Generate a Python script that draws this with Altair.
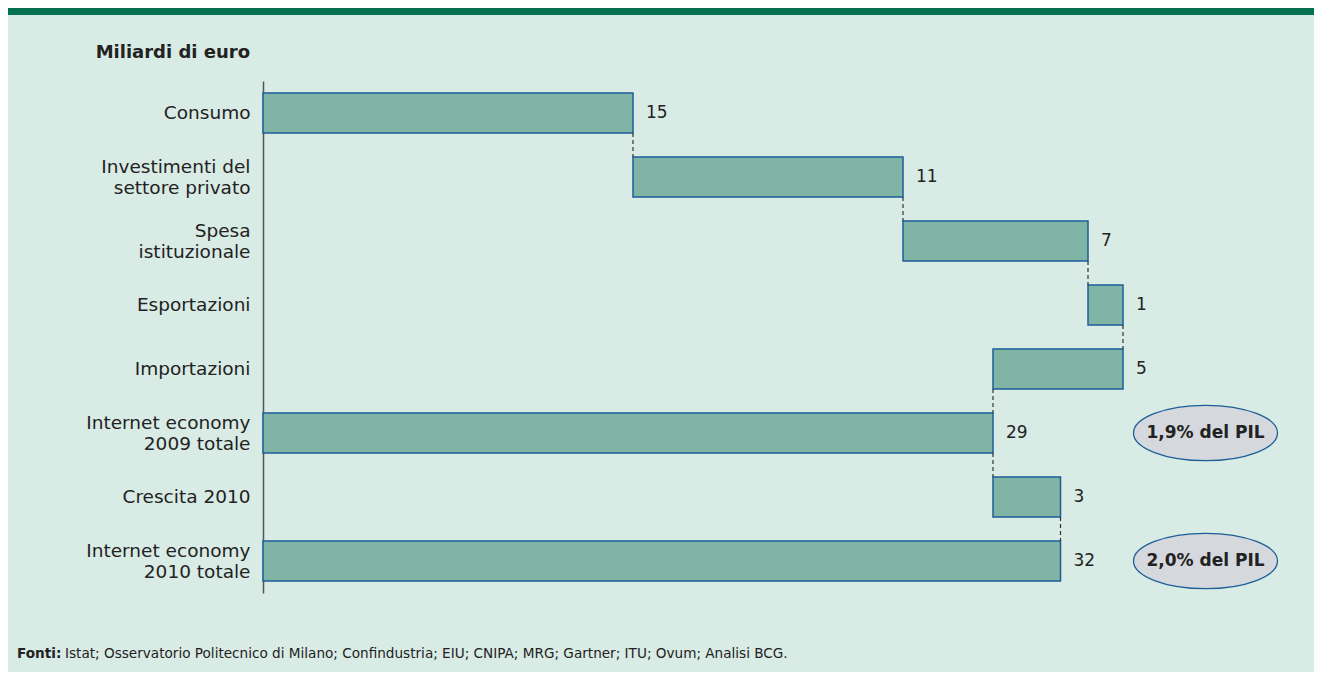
import altair as alt
import pandas as pd

# ---------------- data ----------------
categories = [
    "Consumo",
    "Investimenti del\nsettore privato",
    "Spesa\nistituzionale",
    "Esportazioni",
    "Importazioni",
    "Internet economy\n2009 totale",
    "Crescita 2010",
    "Internet economy\n2010 totale",
]
deltas = [14.8, 10.8, 7.4, 1.4, -5.2, 0.0, 2.7, 0.0]
is_total = [False, False, False, False, False, True, False, True]
value_labels = ["15", "11", "7", "1", "5", "29", "3", "32"]

pil_rows = ["Internet economy\n2009 totale", "Internet economy\n2010 totale"]
pil_labels = ["1,9% del PIL", "2,0% del PIL"]
pil_x = [37.7, 37.7]

title_text = "Miliardi di euro"
source_bold = "Fonti:"
source_text = "Istat; Osservatorio Politecnico di Milano; Confindustria; EIU; CNIPA; MRG; Gartner; ITU; Ovum; Analisi BCG."

# ---------------- derived table ----------------
rows = []
running = 0.0
for c, d, t, lab in zip(categories, deltas, is_total, value_labels):
    if t:
        start, end = 0.0, running
    else:
        start, end = running, running + d
        running = end
    rows.append({"cat": c, "start": start, "end": end,
                 "lab_x": max(start, end), "label": lab})
df = pd.DataFrame(rows)

conn = pd.DataFrame({
    "cat": categories[:-1],
    "next": categories[1:],
    "x": [r["end"] for r in rows[:-1]],
})
pil_df = pd.DataFrame({"cat": pil_rows, "label": pil_labels, "x": pil_x})

BG = "#d9ebe5"
BAR = "#80b5a6"
EDGE = "#1b5e98"
TXT = "#222222"
FONT = "DejaVu Sans"

yscale = alt.Scale(domain=categories, paddingInner=0.375, paddingOuter=0.1875)
xscale = alt.Scale(domain=[0, 40], nice=False)

yaxis = alt.Axis(
    title=None, ticks=False, domainColor="#555555", domainWidth=1.5,
    labelFont=FONT, labelFontSize=18.5, labelColor=TXT, labelPadding=13,
    labelLineHeight=21, labelLimit=400,
    labelExpr="split(datum.label, '\\n')",
    labelOffset={"condition": {"test": "indexof(datum.value, '\\n') >= 0", "value": -10.5},
                 "value": 0},
)

base = alt.Chart(df)

bars = base.mark_bar(fill=BAR, stroke=EDGE, strokeWidth=1.5, cornerRadius=0).encode(
    y=alt.Y("cat:N", sort=categories, scale=yscale, axis=yaxis),
    x=alt.X("start:Q", scale=xscale, axis=None),
    x2="end:Q",
)

connectors = alt.Chart(conn).mark_rule(color="#333333", strokeDash=[4, 3], strokeWidth=1.2).encode(
    y=alt.Y("cat:N", sort=categories, scale=yscale, bandPosition=1),
    y2=alt.Y2("next:N", bandPosition=0),
    x=alt.X("x:Q", scale=xscale),
)

vlabels = base.mark_text(align="left", baseline="middle", dx=13, font=FONT,
                         fontSize=17, color=TXT).encode(
    y=alt.Y("cat:N", sort=categories, scale=yscale),
    x=alt.X("lab_x:Q", scale=xscale),
    text="label:N",
)

ellipse_path = "M-1,0A1,0.385,0,1,1,1,0A1,0.385,0,1,1,-1,0Z"
ellipses = alt.Chart(pil_df).mark_point(
    shape=ellipse_path, size=20736, filled=True, fill="#d5d8dd",
    stroke=EDGE, strokeWidth=1.3, opacity=1,
).encode(
    y=alt.Y("cat:N", sort=categories, scale=yscale),
    x=alt.X("x:Q", scale=xscale),
)
ell_text = alt.Chart(pil_df).mark_text(font=FONT, fontSize=17, fontWeight="bold",
                                       color=TXT, baseline="middle").encode(
    y=alt.Y("cat:N", sort=categories, scale=yscale),
    x=alt.X("x:Q", scale=xscale),
    text="label:N",
)

title = alt.Chart(pd.DataFrame({"t": [title_text]})).mark_text(
    font=FONT, fontSize=18, fontWeight="bold", color=TXT, align="right", baseline="middle"
).encode(text="t:N", x=alt.value(-13), y=alt.value(-28))

src1 = alt.Chart(pd.DataFrame({"t": [source_bold]})).mark_text(
    font=FONT, fontSize=13.6, fontWeight="bold", color=TXT, align="left", baseline="middle"
).encode(text="t:N", x=alt.value(-246), y=alt.value(573))
src2 = alt.Chart(pd.DataFrame({"t": [source_text]})).mark_text(
    font=FONT, fontSize=13.6, color=TXT, align="left", baseline="middle"
).encode(text="t:N", x=alt.value(-198), y=alt.value(573))

band = alt.Chart(pd.DataFrame({"t": [0]})).mark_rect(fill="#00704f").encode(
    x=alt.value(-255), x2=alt.value(1051), y=alt.value(-73), y2=alt.value(-66)
)

chart = alt.layer(band, bars, connectors, vlabels, ellipses, ell_text, title, src1, src2).properties(
    width=1000, height=512,
    background=BG,
    padding={"left": 255, "top": 73, "right": 51, "bottom": 79},
    autosize=alt.AutoSizeParams(type="none"),
).configure_view(stroke=None)

chart.save("out.html", embed_options={"renderer": "svg", "actions": False})
